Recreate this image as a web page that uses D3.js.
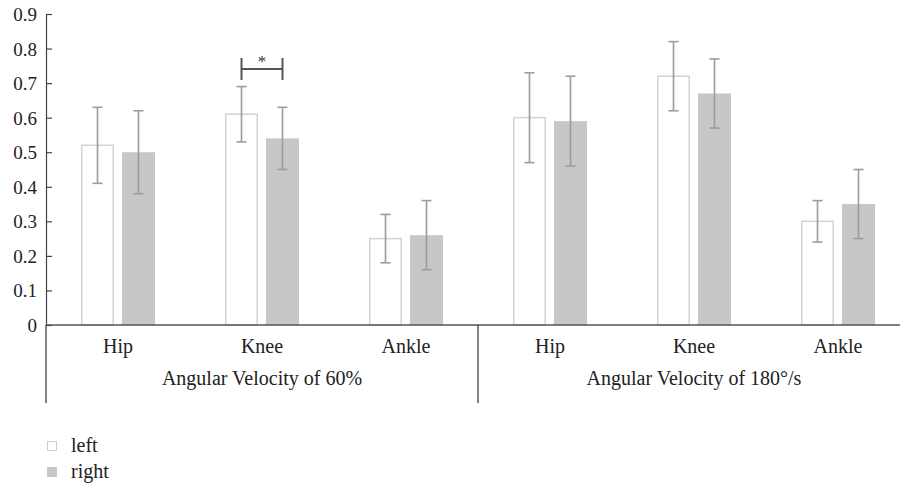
<!DOCTYPE html>
<html>
<head>
<meta charset="utf-8">
<script src="https://cdn.jsdelivr.net/npm/d3@7"></script>
<style>
  body { margin: 0; background: #fff; }
</style>
</head>
<body>
<div id="chart"></div>
<script>
const groups = ["Angular Velocity of 60%", "Angular Velocity of 180°/s"];
const joints = ["Hip", "Knee", "Ankle"];
const sides = ["left", "right"];
const yTicks = [0, 0.1, 0.2, 0.3, 0.4, 0.5, 0.6, 0.7, 0.8, 0.9];

// mean, per group then joint
const leftMeans = [[0.52, 0.61, 0.25], [0.60, 0.72, 0.30]];
const rightMeans = [[0.50, 0.54, 0.26], [0.59, 0.67, 0.35]];
// standard deviation
const leftErr = [[0.11, 0.08, 0.07], [0.13, 0.10, 0.06]];
const rightErr = [[0.12, 0.09, 0.10], [0.13, 0.10, 0.10]];

const FONT = "'Liberation Serif', 'Times New Roman', Times, 'DejaVu Serif', serif";
const W = 900, H = 485;
const margins = { top: 14, left: 46, right: -10, bot: 160 };
const chartH = H - margins.top - margins.bot;

const svg = d3.select("#chart").append("svg").attr("width", W).attr("height", H)
  .attr("font-family", FONT);

const gScale = d3.scaleBand().domain(groups).range([margins.left, W - margins.right]);
const jScale = d3.scaleBand().domain(joints).range([0, gScale.bandwidth()]);
const sScale = d3.scaleBand().domain(sides).range([-37, 37]).paddingInner(8 / 41);
const yScale = d3.scaleLinear().domain([0, 0.9]).range([margins.top + chartH, margins.top]);

const rows = [];
groups.forEach((g, gi) => joints.forEach((j, ji) => {
  rows.push({ g, j, side: "left", v: leftMeans[gi][ji], e: leftErr[gi][ji] });
  rows.push({ g, j, side: "right", v: rightMeans[gi][ji], e: rightErr[gi][ji] });
}));
const cx = d => gScale(d.g) + jScale(d.j) + jScale.bandwidth() / 2;

// bars
svg.append("g").selectAll("rect").data(rows).join("rect")
  .attr("x", d => cx(d) + sScale(d.side) + (d.side === "left" ? 0.75 : 0))
  .attr("y", d => yScale(d.v))
  .attr("width", d => sScale.bandwidth() - (d.side === "left" ? 1.5 : 0))
  .attr("height", d => yScale(0) - yScale(d.v))
  .attr("fill", d => d.side === "left" ? "#fff" : "#c6c7c9")
  .attr("stroke", d => d.side === "left" ? "#d3d3d3" : "none")
  .attr("stroke-width", 1.5);

// error bars
const err = svg.append("g").attr("stroke", "#9c9c9c").attr("stroke-width", 1.6)
  .selectAll("g").data(rows).join("g")
  .attr("transform", d => `translate(${cx(d) + sScale(d.side) + sScale.bandwidth() / 2},0)`);
err.append("line").attr("y1", d => yScale(d.v + d.e)).attr("y2", d => yScale(d.v - d.e));
err.append("line").attr("x1", -5).attr("x2", 5).attr("y1", d => yScale(d.v + d.e)).attr("y2", d => yScale(d.v + d.e));
err.append("line").attr("x1", -5).attr("x2", 5).attr("y1", d => yScale(d.v - d.e)).attr("y2", d => yScale(d.v - d.e));

// y axis
const yAxis = svg.append("g").attr("transform", `translate(${margins.left},0)`)
  .call(d3.axisLeft(yScale).tickValues(yTicks).tickSizeInner(-6).tickSizeOuter(0).tickPadding(9)
    .tickFormat(d => d === 0 ? "0" : d3.format(".1f")(d)));
yAxis.attr("font-family", FONT);
yAxis.select(".domain").attr("stroke", "#444").attr("stroke-width", 1.2);
yAxis.selectAll(".tick line").attr("stroke", "#444").attr("stroke-width", 1.2);
yAxis.selectAll("text").attr("font-size", 19).attr("fill", "#222").attr("dy", "0.34em");

// x axis baseline
svg.append("line").attr("x1", margins.left).attr("x2", W - margins.right)
  .attr("y1", yScale(0)).attr("y2", yScale(0))
  .attr("stroke", "#555").attr("stroke-width", 1.6);

// group dividers
svg.append("g").selectAll("line").data(groups).join("line")
  .attr("x1", d => gScale(d)).attr("x2", d => gScale(d))
  .attr("y1", yScale(0)).attr("y2", 403)
  .attr("stroke", "#333").attr("stroke-width", 1.2);

// joint labels
svg.append("g").selectAll("text").data(groups.flatMap(g => joints.map(j => ({ g, j })))).join("text")
  .attr("x", d => gScale(d.g) + jScale(d.j) + jScale.bandwidth() / 2)
  .attr("y", 353).attr("text-anchor", "middle").attr("font-size", 20).attr("fill", "#222")
  .text(d => d.j);

// group labels
svg.append("g").selectAll("text").data(groups).join("text")
  .attr("x", d => gScale(d) + gScale.bandwidth() / 2)
  .attr("y", 385).attr("text-anchor", "middle").attr("font-size", 20).attr("fill", "#222")
  .text(d => d);

// significance bracket between Knee left and right at 60%
const kneeRow = rows.find(r => r.g === groups[0] && r.j === "Knee" && r.side === "left");
const bx1 = cx(kneeRow) + sScale("left") + sScale.bandwidth() / 2;
const bx2 = cx(kneeRow) + sScale("right") + sScale.bandwidth() / 2;
const bracket = svg.append("g").attr("stroke", "#555").attr("stroke-width", 2);
bracket.append("line").attr("x1", bx1).attr("x2", bx2).attr("y1", 69).attr("y2", 69);
bracket.append("line").attr("x1", bx1).attr("x2", bx1).attr("y1", 58).attr("y2", 80);
bracket.append("line").attr("x1", bx2).attr("x2", bx2).attr("y1", 58).attr("y2", 80);
svg.append("text").attr("x", (bx1 + bx2) / 2).attr("y", 67).attr("text-anchor", "middle")
  .attr("font-size", 17).attr("fill", "#333").text("*");

// legend
const legend = svg.append("g").attr("transform", "translate(47,441)");
const lg = legend.selectAll("g").data(sides).join("g")
  .attr("transform", (d, i) => `translate(0,${i * 26})`);
lg.append("rect")
  .attr("x", d => d === "left" ? 0.5 : 0).attr("y", d => d === "left" ? 0.5 : 0)
  .attr("width", d => d === "left" ? 9 : 10).attr("height", d => d === "left" ? 9 : 10)
  .attr("fill", d => d === "left" ? "#fff" : "#c6c7c9")
  .attr("stroke", d => d === "left" ? "#cfcfcf" : "none");
lg.append("text").attr("x", 24).attr("y", 11).attr("font-size", 20).attr("fill", "#222").text(d => d);
</script>
</body>
</html>
